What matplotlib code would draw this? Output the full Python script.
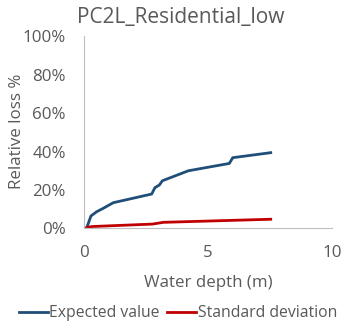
import matplotlib
matplotlib.use("Agg")
import matplotlib.pyplot as plt
from matplotlib.ticker import FuncFormatter

depth_ev = [0.1, 0.28, 0.51, 0.78, 1.18, 2.73, 2.86, 3.04, 3.16, 4.21, 5.86, 6.0, 7.53]
expected = [0.0, 6.5, 8.7, 10.5, 13.4, 17.9, 21.2, 22.6, 24.8, 30.0, 33.8, 36.8, 39.4]
depth_sd = [0.0, 0.3, 2.77, 3.2, 7.53]
stddev = [0.0, 1.0, 2.3, 3.2, 4.8]

title = "PC2L_Residential_low"
xlabel = "Water depth (m)"
ylabel = "Relative loss %"
xticks = [0, 5, 10]
yticks = [0, 20, 40, 60, 80, 100]

plt.rcParams['font.family'] = ['Open Sans', 'DejaVu Sans']
gray = '#595959'
fs = 12.2
lfs = 11.3

fig = plt.figure(figsize=(3.52, 3.28), dpi=100)
ax = fig.add_axes([0.2386, 0.3034, 0.7045, 0.5866])
ax.plot(depth_ev, expected, color='#1f4e79', lw=2, label='Expected value')
ax.plot(depth_sd, stddev, color='#c00000', lw=2, label='Standard deviation')
ax.set_xlim(0, 10)
ax.set_ylim(0, 100)
ax.set_xticks(xticks)
ax.set_yticks(yticks)
ax.yaxis.set_major_formatter(FuncFormatter(lambda v, p: f"{int(v)}%"))
for s in ['top', 'right']:
    ax.spines[s].set_visible(False)
for s in ['left', 'bottom']:
    ax.spines[s].set_color('#bfbfbf')
ax.tick_params(length=0, labelsize=fs, colors=gray)
ax.tick_params(axis='y', pad=13)
ax.tick_params(axis='x', pad=12)
fig.text(181 / 352, 1 - 18 / 328, title, fontsize=15, color=gray, ha='center', va='center')
fig.text(208 / 352, 1 - 283 / 328, xlabel, fontsize=fs, color=gray, ha='center', va='center')
fig.text(17 / 352, 1 - 131.5 / 328, ylabel, fontsize=fs, color=gray, ha='center', va='center', rotation=90)
leg = fig.legend(loc='center', bbox_to_anchor=(178 / 352, 1 - 313 / 328), ncol=2, frameon=False,
                 fontsize=lfs, handlelength=29 / (lfs * 100 / 72), handletextpad=0.1,
                 columnspacing=0.5, borderaxespad=0, borderpad=0)
for t in leg.get_texts():
    t.set_color(gray)
fig.savefig('out.png', dpi=100)
